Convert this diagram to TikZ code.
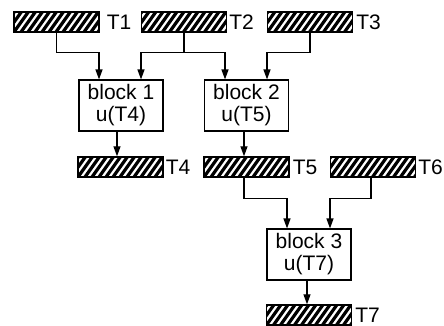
\documentclass[tikz,border=0pt]{standalone}
\usepackage{fontspec}
\setmainfont{Liberation Sans}
\usetikzlibrary{arrows.meta}
\tikzset{
  bar/.style={draw, line width=1.4pt, minimum width=85pt, minimum height=20pt, inner sep=0pt, fill=white,
    path picture={\foreach \k in {-21,-14,...,90} \draw[line width=3.2pt] ([xshift=\k pt]path picture bounding box.south west) -- ++(20pt,28pt);}},
  blockbox/.style={draw, line width=1.1pt, minimum width=84pt, minimum height=51pt, align=center, inner sep=0pt,
    font=\fontsize{21}{22}\selectfont},
  lbl/.style={anchor=west, inner sep=0pt, font=\fontsize{21}{22}\selectfont},
  arr/.style={line width=1.3pt, -{Triangle[length=10pt,width=7pt]}},
}
\begin{document}
\begin{tikzpicture}[x=1pt,y=-1pt]
\useasboundingbox (0,0) rectangle (444,326);
% bars
\node[bar] (t1) at (56.5,22) {};
\node[bar] (t2) at (184,22) {};
\node[bar] (t3) at (310,22) {};
\node[bar] (t4) at (120.5,167) {};
\node[bar] (t5) at (246.5,167) {};
\node[bar] (t6) at (373,167) {};
\node[bar] (t7) at (309,315) {};
% labels
\node[lbl] (l1) at ([xshift=7pt]t1.east) {T1};
\node[lbl] (l2) at ([xshift=2pt]t2.east) {T2};
\node[lbl] (l3) at ([xshift=3pt]t3.east) {T3};
\node[lbl] (l4) at ([xshift=2pt]t4.east) {T4};
\node[lbl] (l5) at ([xshift=3pt]t5.east) {T5};
\node[lbl] (l6) at ([xshift=2pt]t6.east) {T6};
\node[lbl] (l7) at ([xshift=3pt]t7.east) {T7};
% blocks
\node[blockbox] (b1) at (121,105.5) {block 1\\u(T4)};
\node[blockbox] (b2) at (246.5,105.5) {block 2\\u(T5)};
\node[blockbox] (b3) at (309,254.5) {block 3\\u(T7)};
% connectors
\draw[arr] (t1.south) -- ++(0,19.5) -| ([xshift=-22pt]b1.north);
\draw[arr] (t2.south) -- ++(0,19.5) -| ([xshift=20pt]b1.north);
\draw[arr] (t2.south) -- ++(0,19.5) -| ([xshift=-21.5pt]b2.north);
\draw[arr] (t3.south) -- ++(0,19.5) -| ([xshift=20.5pt]b2.north);
\draw[arr] ([xshift=-4pt]b1.south) -- ([xshift=-4pt]b1.south |- t4.north);
\draw[arr] ([xshift=-2.5pt]b2.south) -- ([xshift=-2.5pt]b2.south |- t5.north);
\draw[arr] ([xshift=-2.5pt]t5.south) -- ++(0,21) -| ([xshift=-22pt]b3.north);
\draw[arr] ([xshift=-2pt]t6.south) -- ++(0,21) -| ([xshift=21pt]b3.north);
\draw[arr] ([xshift=-2pt]b3.south) -- ([xshift=-2pt]b3.south |- t7.north);
\end{tikzpicture}
\end{document}
